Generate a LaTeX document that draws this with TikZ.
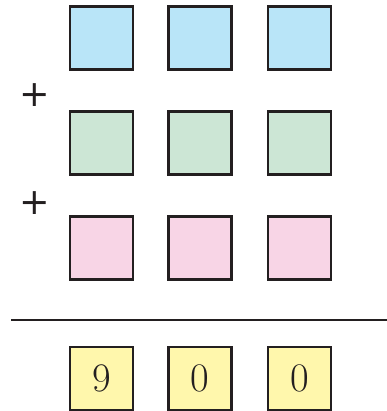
\documentclass[tikz,border=0pt]{standalone}
\usepackage{fontspec}
\newfontfamily\plusfont{DejaVu Sans}
\definecolor{boxblue}{HTML}{B9E5F8}
\definecolor{boxgreen}{HTML}{CCE6D5}
\definecolor{boxpink}{HTML}{F8D5E6}
\definecolor{boxyellow}{HTML}{FFF7AC}
\definecolor{inkdark}{HTML}{231F20}
\tikzset{
  digitbox/.style={draw=inkdark, line width=1.8pt, minimum size=1.64cm, inner sep=0pt,
    font=\fontsize{30}{30}\selectfont, text=inkdark},
  plussign/.style={font=\plusfont\fontsize{27}{27}\selectfont, text=inkdark, inner sep=0pt}
}
\begin{document}
\begin{tikzpicture}[x=0.026cm, y=-0.026cm]
    \useasboundingbox (0,0) rectangle (387,411);

    % First addend
    \node[digitbox, fill=boxblue] (a1) at (101.5, 38) {};
    \node[digitbox, fill=boxblue] (a2) at (200, 38) {};
    \node[digitbox, fill=boxblue] (a3) at (299.5, 38) {};

    % Second addend
    \node[plussign] (p1) at (35, 95) {+};
    \node[digitbox, fill=boxgreen] (b1) at (101.5, 143) {};
    \node[digitbox, fill=boxgreen] (b2) at (200, 143) {};
    \node[digitbox, fill=boxgreen] (b3) at (299.5, 143) {};

    % Third addend
    \node[plussign] (p2) at (35, 203) {+};
    \node[digitbox, fill=boxpink] (c1) at (101.5, 248) {};
    \node[digitbox, fill=boxpink] (c2) at (200, 248) {};
    \node[digitbox, fill=boxpink] (c3) at (299.5, 248) {};

    % Sum line
    \coordinate (l1) at (11, 320);
    \coordinate (l2) at (387, 320);
    \draw[inkdark, line width=1.5pt] (l1) -- (l2);

    % Sum
    \node[digitbox, fill=boxyellow] (s1) at (101.5, 378.5) {9};
    \node[digitbox, fill=boxyellow] (s2) at (200, 378.5) {0};
    \node[digitbox, fill=boxyellow] (s3) at (299.5, 378.5) {0};
\end{tikzpicture}
\end{document}
